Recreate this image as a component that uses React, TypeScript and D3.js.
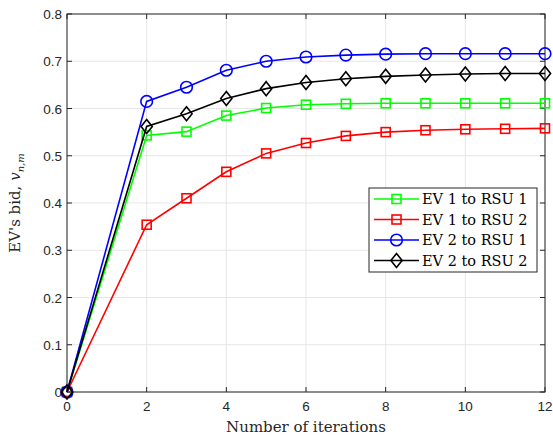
import React from "react";
import * as d3 from "d3";

const iterations = [0, 2, 3, 4, 5, 6, 7, 8, 9, 10, 11, 12];
const ev1rsu1 = [0, 0.543, 0.551, 0.585, 0.601, 0.608, 0.610, 0.611, 0.611, 0.611, 0.611, 0.611];
const ev1rsu2 = [0, 0.354, 0.410, 0.466, 0.505, 0.527, 0.542, 0.550, 0.554, 0.556, 0.557, 0.558];
const ev2rsu1 = [0, 0.615, 0.645, 0.681, 0.700, 0.709, 0.713, 0.715, 0.716, 0.716, 0.716, 0.716];
const ev2rsu2 = [0, 0.562, 0.589, 0.621, 0.642, 0.655, 0.663, 0.668, 0.671, 0.673, 0.674, 0.674];
const seriesNames = ["EV 1 to RSU 1", "EV 1 to RSU 2", "EV 2 to RSU 1", "EV 2 to RSU 2"];
const seriesColors = ["#00ff00", "#ff0000", "#0000ff", "#000000"];
const seriesMarkers = ["square", "square", "circle", "diamond"];
const xTicks = [0, 2, 4, 6, 8, 10, 12];
const yTicks = [0, 0.1, 0.2, 0.3, 0.4, 0.5, 0.6, 0.7, 0.8];

const W = 553, H = 437;
const L = 67, R = 545, T = 14, B = 392;

function Marker({ type, x, y, color }: { type: string; x: number; y: number; color: string }) {
  if (type === "square") return <rect x={x - 4.5} y={y - 4.5} width={9} height={9} fill="none" stroke={color} strokeWidth={1.6} />;
  if (type === "circle") return <circle cx={x} cy={y} r={5.8} fill="none" stroke={color} strokeWidth={1.6} />;
  const s = 7;
  return <path d={`M${x},${y - s}L${x + s * 0.8},${y}L${x},${y + s}L${x - s * 0.8},${y}Z`} fill="none" stroke={color} strokeWidth={1.6} />;
}

export default function App() {
  const x = d3.scaleLinear().domain([0, 12]).range([L, R]);
  const y = d3.scaleLinear().domain([0, 0.8]).range([B, T]);
  const data = [ev1rsu1, ev1rsu2, ev2rsu1, ev2rsu2];
  const line = d3.line<number>().x((_, i) => x(iterations[i])).y((d) => y(d));
  const tickFont = "Liberation Sans, Arial, sans-serif";
  const serif = "'DejaVu Serif', 'Liberation Serif', serif";
  const lgX = 369, lgY = 188, lgW = 168, lgH = 84;
  return (
    <svg width={W} height={H} style={{ position: "absolute", left: 0, top: 0, background: "#fff" }}>
      <rect x={0} y={0} width={W} height={H} fill="#fff" />
      {xTicks.map((t) => (
        <line key={"gx" + t} x1={x(t)} x2={x(t)} y1={T} y2={B} stroke="#e6e6e6" strokeWidth={1} />
      ))}
      {yTicks.map((t) => (
        <line key={"gy" + t} x1={L} x2={R} y1={y(t)} y2={y(t)} stroke="#e6e6e6" strokeWidth={1} />
      ))}
      <rect x={L} y={T} width={R - L} height={B - T} fill="none" stroke="#262626" strokeWidth={1} />
      {xTicks.map((t) => (
        <g key={"tx" + t}>
          <line x1={x(t)} x2={x(t)} y1={B} y2={B - 5} stroke="#262626" />
          <line x1={x(t)} x2={x(t)} y1={T} y2={T + 5} stroke="#262626" />
          <text x={x(t)} y={B + 19} textAnchor="middle" fontFamily={tickFont} fontSize={13.5} fill="#262626">{t}</text>
        </g>
      ))}
      {yTicks.map((t) => (
        <g key={"ty" + t}>
          <line x1={L} x2={L + 5} y1={y(t)} y2={y(t)} stroke="#262626" />
          <line x1={R} x2={R - 5} y1={y(t)} y2={y(t)} stroke="#262626" />
          <text x={L - 5} y={y(t) + 5} textAnchor="end" fontFamily={tickFont} fontSize={13.5} fill="#262626">{t === 0 ? "0" : t.toFixed(1)}</text>
        </g>
      ))}
      {data.map((s, k) => (
        <g key={"s" + k}>
          <path d={line(s) || ""} fill="none" stroke={seriesColors[k]} strokeWidth={1.6} />
          {s.map((v, i) => (
            <Marker key={i} type={seriesMarkers[k]} x={x(iterations[i])} y={y(v)} color={seriesColors[k]} />
          ))}
        </g>
      ))}
      <text x={(L + R) / 2} y={432} textAnchor="middle" fontFamily={serif} fontSize={15} fill="#262626">Number of iterations</text>
      <text transform={`translate(20,${(T + B) / 2}) rotate(-90)`} textAnchor="middle" fontFamily={serif} fontSize={15} fill="#262626">
        EV's bid, <tspan fontStyle="italic">v</tspan><tspan fontStyle="italic" fontSize={10} dy={4}>n,m</tspan>
      </text>
      <rect x={lgX} y={lgY} width={lgW} height={lgH} fill="#fff" stroke="#262626" strokeWidth={1} />
      {seriesNames.map((n, k) => {
        const cy = lgY + 11 + k * 20.5;
        return (
          <g key={"lg" + k}>
            <line x1={lgX + 5} x2={lgX + 50} y1={cy} y2={cy} stroke={seriesColors[k]} strokeWidth={1.6} />
            <Marker type={seriesMarkers[k]} x={lgX + 27.5} y={cy} color={seriesColors[k]} />
            <text x={lgX + 53} y={cy + 5} fontFamily={serif} fontSize={14.5} fill="#000">{n}</text>
          </g>
        );
      })}
    </svg>
  );
}
